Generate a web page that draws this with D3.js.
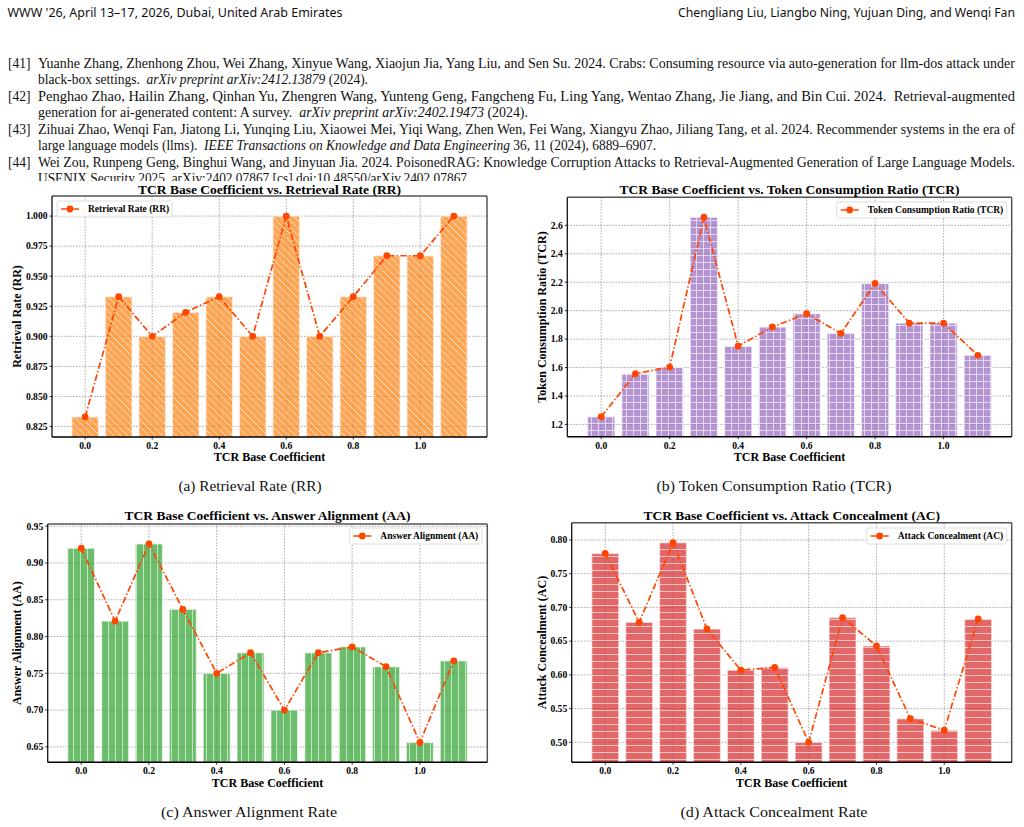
<!DOCTYPE html>
<html>
<head>
<meta charset="utf-8">
<script src="https://cdn.jsdelivr.net/npm/d3@7"></script>
<style>
  html, body { margin: 0; padding: 0; background: #fff; }
  svg { display: block; }
</style>
</head>
<body>
<svg id="page" width="1024" height="827"></svg>
<script>
// ---- data ----
const coef = [0.0, 0.1, 0.2, 0.3, 0.4, 0.5, 0.6, 0.7, 0.8, 0.9, 1.0, 1.1];
const rrValues  = [0.833, 0.933, 0.900, 0.920, 0.933, 0.900, 1.000, 0.900, 0.933, 0.967, 0.967, 1.000];
const tcrValues = [1.254, 1.557, 1.603, 2.657, 1.751, 1.885, 1.979, 1.840, 2.192, 1.913, 1.913, 1.686];
const aaValues  = [0.920, 0.821, 0.926, 0.837, 0.750, 0.778, 0.700, 0.778, 0.786, 0.759, 0.656, 0.767];
const acValues  = [0.780, 0.678, 0.796, 0.668, 0.607, 0.611, 0.500, 0.685, 0.643, 0.535, 0.518, 0.683];

const xTicks   = [0.0, 0.2, 0.4, 0.6, 0.8, 1.0];
const rrTicks  = [0.825, 0.850, 0.875, 0.900, 0.925, 0.950, 0.975, 1.000];
const tcrTicks = [1.2, 1.4, 1.6, 1.8, 2.0, 2.2, 2.4, 2.6];
const aaTicks  = [0.65, 0.70, 0.75, 0.80, 0.85, 0.90, 0.95];
const acTicks  = [0.50, 0.55, 0.60, 0.65, 0.70, 0.75, 0.80];

const headerLeft = "WWW '26, April 13–17, 2026, Dubai, United Arab Emirates";
const headerRight = "Chengliang Liu, Liangbo Ning, Yujuan Ding, and Wenqi Fan";

// each line: [label, [text, italic]...]
const refLines = [
  ["[41]", ["Yuanhe Zhang, Zhenhong Zhou, Wei Zhang, Xinyue Wang, Xiaojun Jia, Yang Liu, and Sen Su. 2024. Crabs: Consuming resource via auto-generation for llm-dos attack under", false]],
  ["", ["black-box settings.  ", false], ["arXiv preprint arXiv:2412.13879", true], [" (2024).", false]],
  ["[42]", ["Penghao Zhao, Hailin Zhang, Qinhan Yu, Zhengren Wang, Yunteng Geng, Fangcheng Fu, Ling Yang, Wentao Zhang, Jie Jiang, and Bin Cui. 2024.  Retrieval-augmented", false]],
  ["", ["generation for ai-generated content: A survey.  ", false], ["arXiv preprint arXiv:2402.19473", true], [" (2024).", false]],
  ["[43]", ["Zihuai Zhao, Wenqi Fan, Jiatong Li, Yunqing Liu, Xiaowei Mei, Yiqi Wang, Zhen Wen, Fei Wang, Xiangyu Zhao, Jiliang Tang, et al. 2024. Recommender systems in the era of", false]],
  ["", ["large language models (llms).  ", false], ["IEEE Transactions on Knowledge and Data Engineering", true], [" 36, 11 (2024), 6889–6907.", false]],
  ["[44]", ["Wei Zou, Runpeng Geng, Binghui Wang, and Jinyuan Jia. 2024. PoisonedRAG: Knowledge Corruption Attacks to Retrieval-Augmented Generation of Large Language Models.", false]],
  ["", ["USENIX Security 2025. arXiv:2402.07867 [cs] doi:10.48550/arXiv.2402.07867", false]]
];
const refEnds = [1015, 368, 1015, 528, 1015, 656, 1015, 467];

const panels = [
  {values: rrValues, ticks: rrTicks, fmt: ".3f", color: "#ff7f0e", hatch: "diag",
   title: "TCR Base Coefficient vs. Retrieval Rate (RR)", ylabel: "Retrieval Rate (RR)",
   caption: "(a) Retrieval Rate (RR)"},
  {values: tcrValues, ticks: tcrTicks, fmt: ".1f", color: "#9467bd", hatch: "cross",
   title: "TCR Base Coefficient vs. Token Consumption Ratio (TCR)", ylabel: "Token Consumption Ratio (TCR)",
   caption: "(b) Token Consumption Ratio (TCR)"},
  {values: aaValues, ticks: aaTicks, fmt: ".2f", color: "#2ca02c", hatch: "vert",
   title: "TCR Base Coefficient vs. Answer Alignment (AA)", ylabel: "Answer Alignment (AA)",
   caption: "(c) Answer Alignment Rate"},
  {values: acValues, ticks: acTicks, fmt: ".2f", color: "#d62728", hatch: "horiz",
   title: "TCR Base Coefficient vs. Attack Concealment (AC)", ylabel: "Attack Concealment (AC)",
   caption: "(d) Attack Concealment Rate"}
];

// ---- layout ----
const layout = [
  {left: 52, right: 487, top: 196, bottom: 437, titleY: 193.5, tickY: 448.5, xlabY: 461, ylabX: 20.5,
   capX: 250, capY: 491, capW: 143, leg: {x: 57, y: 201, w: 115}},
  {left: 567.3, right: 1011.7, top: 197.3, bottom: 436.7, titleY: 193.5, tickY: 448.5, xlabY: 461, ylabX: 545.5,
   capX: 774, capY: 491, capW: 235, leg: {x: 836.7, y: 202, w: 170}},
  {left: 47.7, right: 487.3, top: 524, bottom: 762.3, titleY: 519.5, tickY: 773.8, xlabY: 787, ylabX: 21.2,
   capX: 249, capY: 817, capW: 176, leg: {x: 349.3, y: 528, w: 133}},
  {left: 571.7, right: 1011.7, top: 522.7, bottom: 762.3, titleY: 519.5, tickY: 773.8, xlabY: 787, ylabX: 545.5,
   capX: 774, capY: 817, capW: 187, leg: {x: 866.7, y: 528, w: 140}}
];

const chartFont = "'Liberation Serif', 'Times New Roman', serif";
const lineColor = "#ff4500";
const barW = 0.08;

const svg = d3.select("#page");
const defs = svg.append("defs");

// hatch patterns
const hp = 7;
function addPattern(id, paths) {
  const p = defs.append("pattern").attr("id", id)
    .attr("patternUnits", "userSpaceOnUse").attr("width", hp).attr("height", hp);
  paths.forEach(d => p.append("path").attr("d", d)
    .attr("stroke", "#fff").attr("stroke-width", 1).attr("stroke-opacity", 0.6).attr("fill", "none"));
}
addPattern("diag", [`M-1,-1L${hp+1},${hp+1}`, `M-1,${hp-1}L1,${hp+1}`, `M${hp-1},-1L${hp+1},1`]);
addPattern("cross", [`M0,${hp/2}H${hp}`, `M${hp/2},0V${hp}`]);
addPattern("vert", [`M${hp/2},0V${hp}`]);
addPattern("horiz", [`M0,${hp/2}H${hp}`]);

// ---- page text ----
const head = svg.append("g").attr("font-family", "'Noto Sans', 'Liberation Sans', sans-serif")
  .attr("font-size", 12.5).attr("fill", "#111");
head.append("text").attr("x", 7.5).attr("y", 17).text(headerLeft)
  .attr("textLength", 335).attr("lengthAdjust", "spacingAndGlyphs");
head.append("text").attr("x", 678).attr("y", 17).text(headerRight)
  .attr("textLength", 337).attr("lengthAdjust", "spacingAndGlyphs");

const refs = svg.append("g").attr("font-family", "'Liberation Serif', serif")
  .attr("font-size", 13.6).attr("fill", "#111");
refLines.forEach((line, i) => {
  const y = 67.5 + i * 16.5;
  if (line[0]) refs.append("text").attr("x", 8).attr("y", y).text(line[0]);
  const t = refs.append("text").attr("x", 38).attr("y", y).attr("xml:space", "preserve")
    .attr("textLength", refEnds[i] - 38).attr("lengthAdjust", "spacingAndGlyphs");
  line.slice(1).forEach(part => {
    t.append("tspan").attr("font-style", part[1] ? "italic" : "normal").text(part[0]);
  });
});

// figure image covers the last reference line
svg.append("rect").attr("x", 0).attr("y", 181).attr("width", 1024).attr("height", 646).attr("fill", "#fff");

// ---- panels ----
panels.forEach((p, i) => {
  const L = layout[i];
  const g = svg.append("g").attr("font-family", chartFont).attr("font-weight", "bold").attr("fill", "#000");

  const lo = coef[0] - barW / 2, hi = coef[coef.length - 1] + barW / 2;
  const xPad = (hi - lo) * 0.05;
  const x = d3.scaleLinear().domain([lo - xPad, hi + xPad]).range([L.left, L.right]);
  const vmin = d3.min(p.values), vmax = d3.max(p.values), r = vmax - vmin;
  const y = d3.scaleLinear().domain([vmin - 0.1 * r, vmax + 0.1 * r]).range([L.bottom, L.top]);

  const clipId = "clip" + i;
  defs.append("clipPath").attr("id", clipId).append("rect")
    .attr("x", L.left).attr("y", L.top).attr("width", L.right - L.left).attr("height", L.bottom - L.top);

  // grid
  const grid = g.append("g").attr("stroke", "#999").attr("stroke-width", 0.8).attr("stroke-dasharray", "1.6,1.4");
  grid.selectAll(".gx").data(xTicks).enter().append("line")
    .attr("x1", d => x(d)).attr("x2", d => x(d)).attr("y1", L.top).attr("y2", L.bottom);
  grid.selectAll(".gy").data(p.ticks).enter().append("line")
    .attr("x1", L.left).attr("x2", L.right).attr("y1", d => y(d)).attr("y2", d => y(d));

  // bars
  const bars = g.append("g").attr("clip-path", `url(#${clipId})`);
  const data = coef.map((c, k) => ({c, v: p.values[k]}));
  const barRect = sel => sel
    .attr("x", d => x(d.c - barW / 2)).attr("width", d => x(d.c + barW / 2) - x(d.c - barW / 2))
    .attr("y", d => y(d.v)).attr("height", d => L.bottom + 2 - y(d.v));
  bars.selectAll(".bf").data(data).enter().append("rect").call(barRect)
    .attr("fill", p.color).attr("fill-opacity", 0.7);
  bars.selectAll(".bh").data(data).enter().append("rect").call(barRect)
    .attr("fill", `url(#${p.hatch})`)
    .attr("stroke", "#fff").attr("stroke-opacity", 0.55).attr("stroke-width", 1.4);

  // line + markers
  const line = d3.line().x(d => x(d.c)).y(d => y(d.v));
  g.append("path").datum(data).attr("d", line).attr("fill", "none")
    .attr("stroke", lineColor).attr("stroke-width", 1.7).attr("stroke-dasharray", "6.5,2.3,1.4,2.3");
  g.selectAll(".mk").data(data).enter().append("circle")
    .attr("cx", d => x(d.c)).attr("cy", d => y(d.v)).attr("r", 3.4).attr("fill", lineColor);

  // spines
  g.append("line").attr("x1", L.left).attr("x2", L.right).attr("y1", L.top).attr("y2", L.top)
    .attr("stroke", "#555").attr("stroke-width", 1.5);
  g.append("line").attr("x1", L.right).attr("x2", L.right).attr("y1", L.top).attr("y2", L.bottom)
    .attr("stroke", "#555").attr("stroke-width", 1.5);
  g.append("line").attr("x1", L.left).attr("x2", L.left).attr("y1", L.top).attr("y2", L.bottom)
    .attr("stroke", "#111").attr("stroke-width", 1.3);
  g.append("line").attr("x1", L.left).attr("x2", L.right).attr("y1", L.bottom).attr("y2", L.bottom)
    .attr("stroke", "#000").attr("stroke-width", 1.5);

  // ticks
  const fx = d3.format(".1f"), fy = d3.format(p.fmt);
  g.selectAll(".tx").data(xTicks).enter().append("line")
    .attr("x1", d => x(d)).attr("x2", d => x(d)).attr("y1", L.bottom).attr("y2", L.bottom + 2.5)
    .attr("stroke", "#000").attr("stroke-width", 0.8);
  g.selectAll(".lx").data(xTicks).enter().append("text")
    .attr("x", d => x(d)).attr("y", L.tickY).attr("text-anchor", "middle").attr("font-size", 9.6)
    .text(d => fx(d));
  g.selectAll(".ty").data(p.ticks).enter().append("line")
    .attr("x1", L.left - 2.5).attr("x2", L.left).attr("y1", d => y(d)).attr("y2", d => y(d))
    .attr("stroke", "#000").attr("stroke-width", 0.8);
  g.selectAll(".ly").data(p.ticks).enter().append("text")
    .attr("x", L.left - 4.5).attr("y", d => y(d) + 3.3).attr("text-anchor", "end").attr("font-size", 9.6)
    .text(d => fy(d));

  // titles and labels
  const cx = (L.left + L.right) / 2, cy = (L.top + L.bottom) / 2;
  g.append("text").attr("x", cx).attr("y", L.titleY).attr("text-anchor", "middle")
    .attr("font-size", 13.5).text(p.title);
  g.append("text").attr("x", cx).attr("y", L.xlabY).attr("text-anchor", "middle")
    .attr("font-size", 12).text("TCR Base Coefficient");
  g.append("text").attr("transform", `translate(${L.ylabX},${cy}) rotate(-90)`)
    .attr("text-anchor", "middle").attr("font-size", 12).text(p.ylabel);

  // legend
  const lg = g.append("g").attr("transform", `translate(${L.leg.x},${L.leg.y})`);
  lg.append("rect").attr("width", L.leg.w).attr("height", 16).attr("rx", 2)
    .attr("fill", "#fff").attr("fill-opacity", 0.8).attr("stroke", "#d6d6d6").attr("stroke-width", 0.8);
  lg.append("line").attr("x1", 4).attr("x2", 22).attr("y1", 8).attr("y2", 8)
    .attr("stroke", lineColor).attr("stroke-width", 1.7).attr("stroke-dasharray", "6.5,2.3,1.4,2.3");
  lg.append("circle").attr("cx", 13).attr("cy", 8).attr("r", 3.4).attr("fill", lineColor);
  lg.append("text").attr("x", 31).attr("y", 11.3).attr("font-size", 9.5).text(p.ylabel);

  // caption
  svg.append("text").attr("x", L.capX).attr("y", L.capY).attr("text-anchor", "middle")
    .attr("font-family", "'Liberation Serif', serif").attr("font-size", 14.5).attr("fill", "#111")
    .attr("textLength", L.capW).attr("lengthAdjust", "spacingAndGlyphs").text(p.caption);
});
</script>
</body>
</html>
